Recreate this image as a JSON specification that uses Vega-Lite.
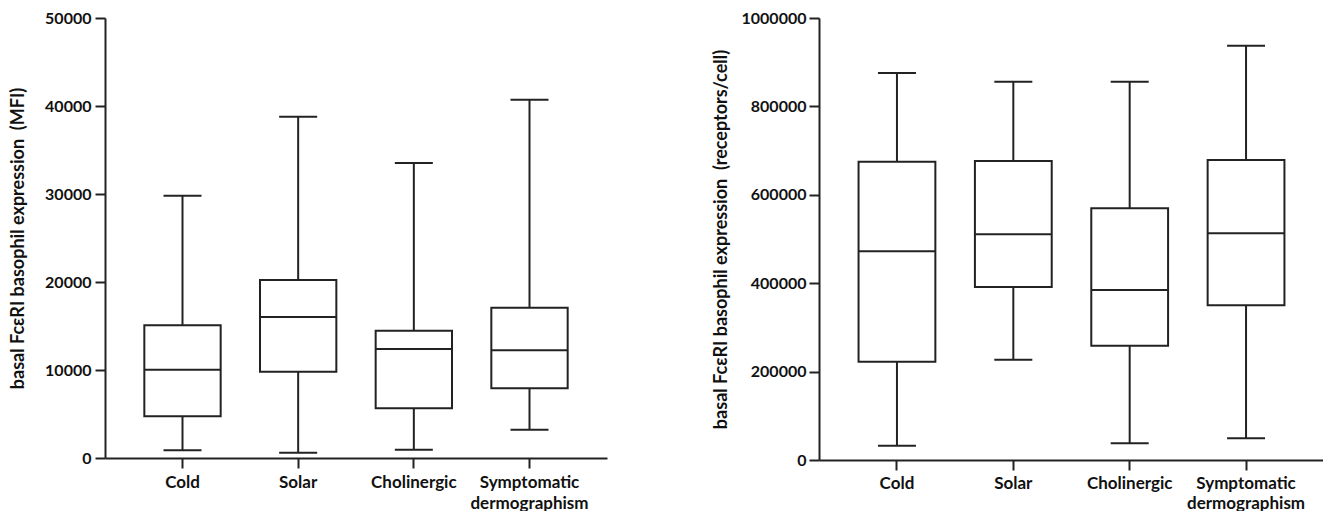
{
  "$schema": "https://vega.github.io/schema/vega-lite/v6.json",
  "padding": {"left": 9, "top": 10, "right": 0, "bottom": 0},
  "background": "white",
  "datasets": {
    "mfi": [
      {"group": "Cold", "min": 871, "q1": 4735, "median": 10038, "q3": 15076, "max": 29811},
      {"group": "Solar", "min": 606, "q1": 9811, "median": 16023, "q3": 20227, "max": 38788},
      {"group": "Cholinergic", "min": 947, "q1": 5644, "median": 12386, "q3": 14470, "max": 33523},
      {"group": "Symptomatic dermographism", "min": 3220, "q1": 7917, "median": 12235, "q3": 17083, "max": 40720}
    ],
    "rec": [
      {"group": "Cold", "min": 32400, "q1": 222500, "median": 472100, "q3": 675000, "max": 875600},
      {"group": "Solar", "min": 227000, "q1": 391400, "median": 510600, "q3": 676500, "max": 856000},
      {"group": "Cholinergic", "min": 37700, "q1": 258700, "median": 384600, "q3": 569400, "max": 856000},
      {"group": "Symptomatic dermographism", "min": 49000, "q1": 349900, "median": 512800, "q3": 678700, "max": 937400}
    ]
  },
  "config": {
    "view": {"stroke": null},
    "font": "Lato",
    "axis": {
      "domainColor": "#222",
      "domainWidth": 2,
      "tickColor": "#222",
      "tickWidth": 2,
      "tickSize": 10,
      "grid": false,
      "labelFont": "Lato",
      "labelFontWeight": "bold",
      "labelFontSize": 16,
      "labelColor": "#111",
      "titleFont": "Lato",
      "titleFontWeight": "bold",
      "titleFontSize": 18,
      "titleColor": "#111"
    }
  },
  "hconcat": [
    {
      "width": 502,
      "height": 440,
      "data": {"name": "mfi"},
      "encoding": {
        "x": {
          "field": "group",
          "type": "nominal",
          "sort": null,
          "scale": {"paddingInner": 0.34, "paddingOuter": 0.34},
          "axis": {"title": null, "labelAngle": 0, "labelPadding": 6, "labelFontSize": 17, "labelExpr": "split(datum.label, ' ')", "labelLineHeight": 21}
        }
      },
      "layer": [
        {
          "mark": {"type": "rule", "color": "#222", "strokeWidth": 2},
          "encoding": {
            "y": {"field": "min", "type": "quantitative", "scale": {"domain": [0, 50000], "nice": false},
              "axis": {"values": [0, 10000, 20000, 30000, 40000, 50000], "format": "d", "labelPadding": 4, "titlePadding": 17,
                "title": "basal FcεRI basophil expression\u00a0 (MFI)"}},
            "y2": {"field": "max"}
          }
        },
        {
          "mark": {"type": "bar", "fill": "white", "stroke": "#222", "strokeWidth": 2},
          "encoding": {"y": {"field": "q1", "type": "quantitative"}, "y2": {"field": "q3"}}
        },
        {
          "mark": {"type": "tick", "color": "#222", "size": 76, "thickness": 2, "opacity": 1},
          "encoding": {"y": {"field": "median", "type": "quantitative"}}
        },
        {
          "mark": {"type": "tick", "color": "#222", "size": 38, "thickness": 2, "opacity": 1},
          "encoding": {"y": {"field": "min", "type": "quantitative"}}
        },
        {
          "mark": {"type": "tick", "color": "#222", "size": 38, "thickness": 2, "opacity": 1},
          "encoding": {"y": {"field": "max", "type": "quantitative"}}
        }
      ]
    },
    {
      "width": 505,
      "height": 442,
      "data": {"name": "rec"},
      "encoding": {
        "x": {
          "field": "group",
          "type": "nominal",
          "sort": null,
          "scale": {"paddingInner": 0.34, "paddingOuter": 0.34},
          "axis": {"title": null, "labelAngle": 0, "labelPadding": 5, "labelFontSize": 17, "labelExpr": "split(datum.label, ' ')", "labelLineHeight": 20}
        }
      },
      "layer": [
        {
          "mark": {"type": "rule", "color": "#222", "strokeWidth": 2},
          "encoding": {
            "y": {"field": "min", "type": "quantitative", "scale": {"domain": [0, 1000000], "nice": false},
              "axis": {"values": [0, 200000, 400000, 600000, 800000, 1000000], "format": "d", "labelPadding": 3, "titlePadding": 11,
                "title": "basal FcεRI basophil expression\u00a0 (receptors/cell)"}},
            "y2": {"field": "max"}
          }
        },
        {
          "mark": {"type": "bar", "fill": "white", "stroke": "#222", "strokeWidth": 2},
          "encoding": {"y": {"field": "q1", "type": "quantitative"}, "y2": {"field": "q3"}}
        },
        {
          "mark": {"type": "tick", "color": "#222", "size": 76, "thickness": 2, "opacity": 1},
          "encoding": {"y": {"field": "median", "type": "quantitative"}}
        },
        {
          "mark": {"type": "tick", "color": "#222", "size": 38, "thickness": 2, "opacity": 1},
          "encoding": {"y": {"field": "min", "type": "quantitative"}}
        },
        {
          "mark": {"type": "tick", "color": "#222", "size": 38, "thickness": 2, "opacity": 1},
          "encoding": {"y": {"field": "max", "type": "quantitative"}}
        }
      ]
    }
  ],
  "spacing": 105
}
